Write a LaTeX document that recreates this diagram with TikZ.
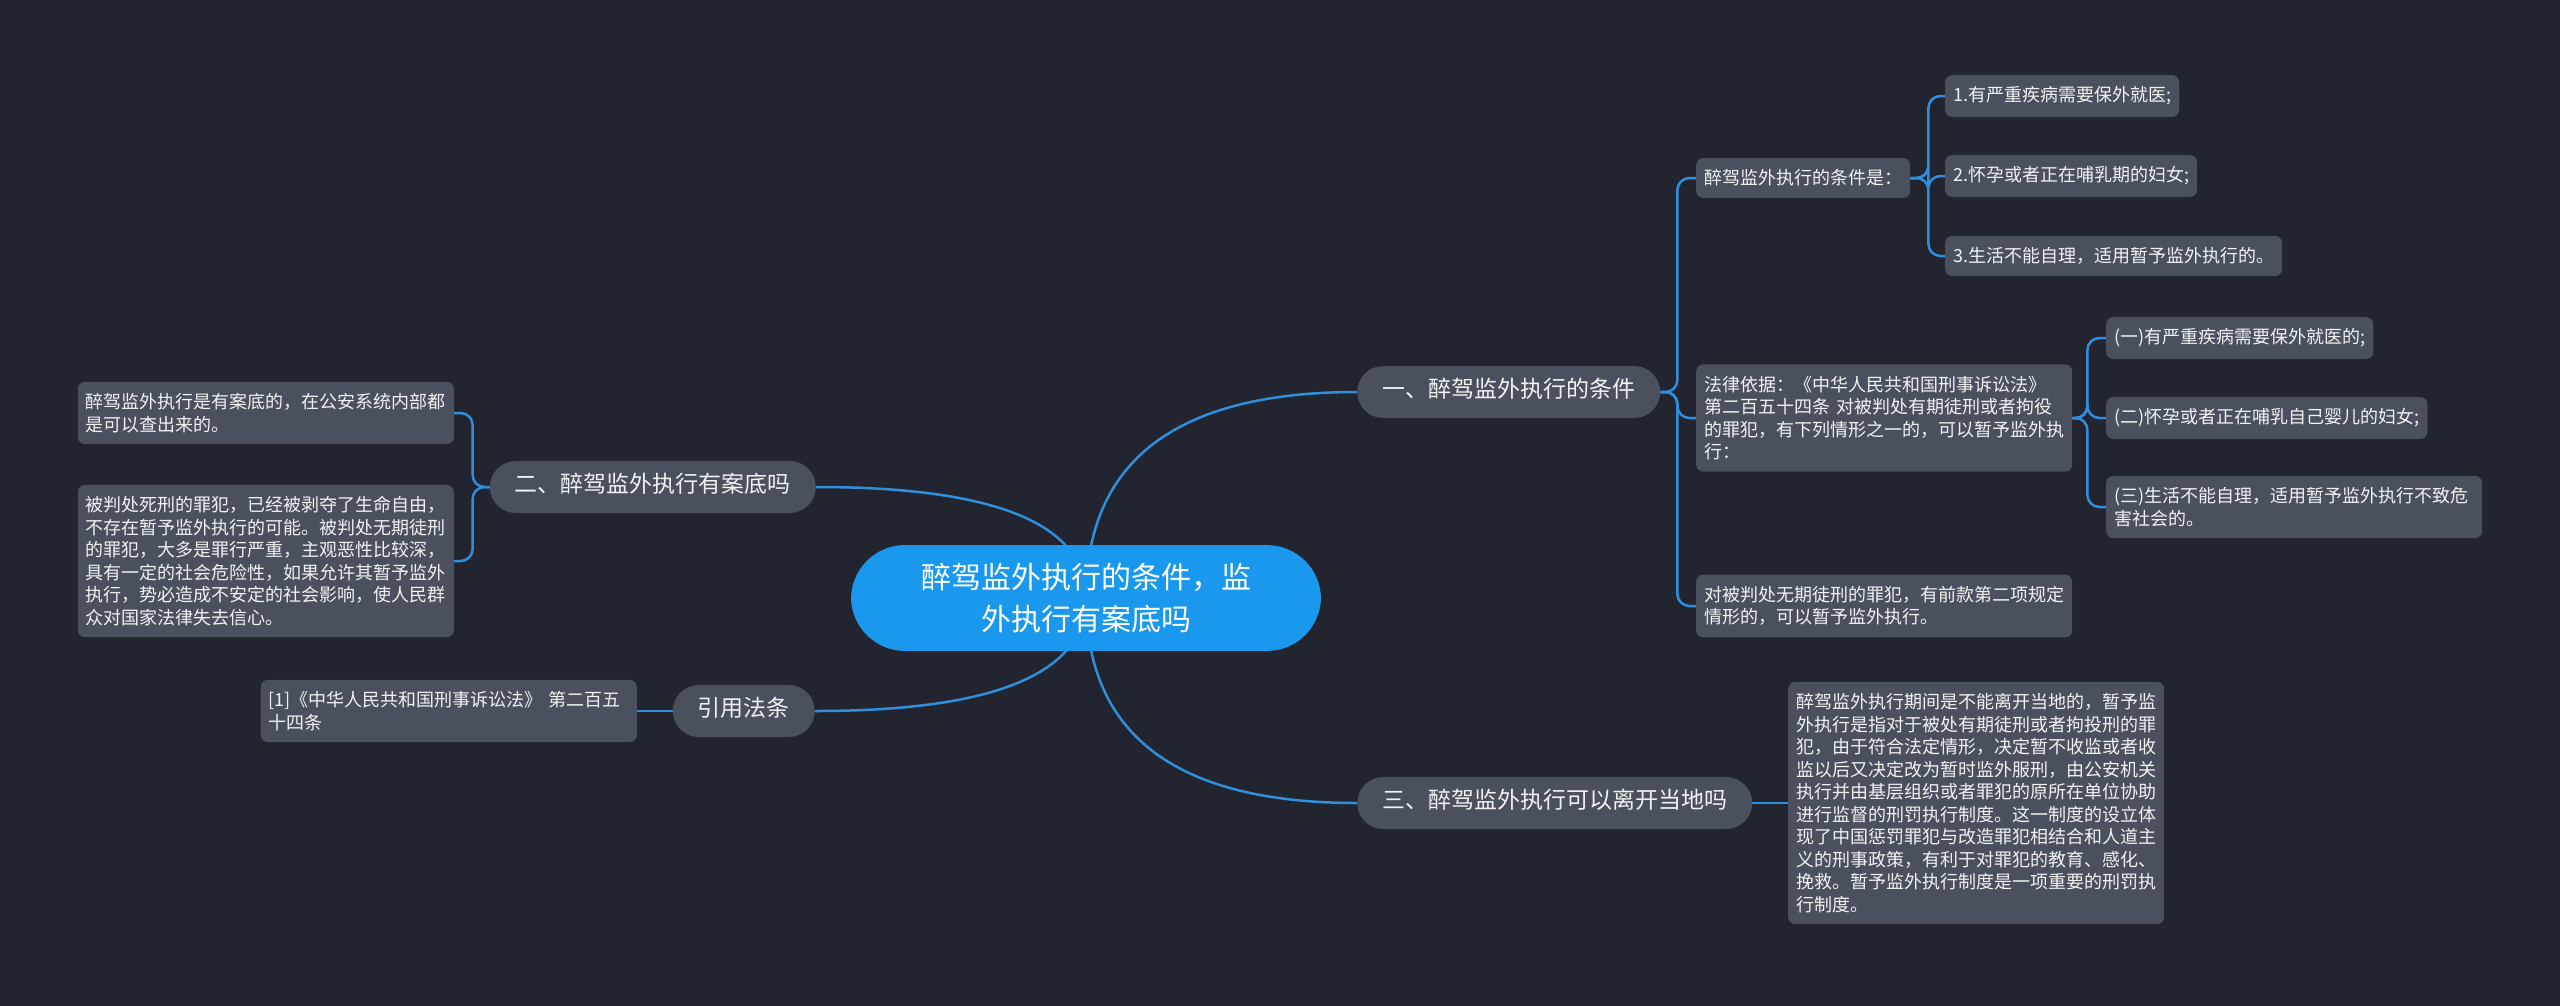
\documentclass[tikz,border=0pt]{standalone}
\usepackage{fontspec}
\setmainfont{Noto Sans CJK SC}
\usetikzlibrary{backgrounds}

\definecolor{bgdark}{HTML}{22252F}
\definecolor{rootblue}{HTML}{1A98EE}
\definecolor{boxgray}{HTML}{4A505E}
\definecolor{linkblue}{HTML}{2F8FDC}
\definecolor{textwhite}{HTML}{F2F2F2}

\begin{document}
\begin{tikzpicture}[
    x=1pt, y=-1pt,
    root/.style={rectangle, fill=rootblue, text=white, align=center, rounded corners=54pt, inner xsep=70pt, inner ysep=18pt, font=\fontsize{30pt}{42pt}\selectfont},
    topic/.style={rectangle, fill=boxgray, text=textwhite, rounded corners=26pt, inner xsep=25pt, inner ysep=14.5pt, text height=17pt, text depth=6pt, font=\fontsize{23pt}{28pt}\selectfont},
    leaf/.style={rectangle, fill=boxgray, text=textwhite, align=left, rounded corners=7pt, inner xsep=8pt, inner ysep=11.5pt, font=\fontsize{18pt}{22.5pt}\selectfont},
    wide/.style={leaf, text width=360pt},
    link/.style={draw=linkblue, line width=2.5pt},
    elbow/.style={link, rounded corners=12pt}
]
    \useasboundingbox (0,0) rectangle (2560,1005);

    % Root
    \node[root] (root) at (1086,598) {醉驾监外执行的条件，监\\外执行有案底吗};

    % Main topics
    \node[topic, anchor=west] (cond) at (1357,392) {一、醉驾监外执行的条件};
    \node[topic, anchor=west] (leave) at (1357,803) {三、醉驾监外执行可以离开当地吗};
    \node[topic, anchor=east] (record) at (816,487) {二、醉驾监外执行有案底吗};
    \node[topic, anchor=east] (cite) at (815,711) {引用法条};

    % Conditions
    \node[leaf, anchor=west] (condlist) at (1696,178) {醉驾监外执行的条件是：};
    \node[leaf, anchor=west] (item1) at (1945,96) {1.有严重疾病需要保外就医;};
    \node[leaf, anchor=west] (item2) at (1945,176) {2.怀孕或者正在哺乳期的妇女;};
    \node[leaf, anchor=west] (item3) at (1945,256) {3.生活不能自理，适用暂予监外执行的。};

    % Legal basis
    \node[wide, anchor=west] (basis) at (1696,418) {法律依据：《中华人民共和国刑事诉讼法》\\第二百五十四条 对被判处有期徒刑或者拘役\\的罪犯，有下列情形之一的，可以暂予监外执\\行：};
    \node[leaf, anchor=west] (case1) at (2106,338) {(一)有严重疾病需要保外就医的;};
    \node[leaf, anchor=west] (case2) at (2106,418) {(二)怀孕或者正在哺乳自己婴儿的妇女;};
    \node[wide, anchor=west] (case3) at (2106,507) {(三)生活不能自理，适用暂予监外执行不致危\\害社会的。};
    \node[wide, anchor=west] (lifer) at (1696,606) {对被判处无期徒刑的罪犯，有前款第二项规定\\情形的，可以暂予监外执行。};

    % Leaving the area
    \node[wide, anchor=west] (detail) at (1788,803) {醉驾监外执行期间是不能离开当地的，暂予监\\外执行是指对于被处有期徒刑或者拘投刑的罪\\犯，由于符合法定情形，决定暂不收监或者收\\监以后又决定改为暂时监外服刑，由公安机关\\执行并由基层组织或者罪犯的原所在单位协助\\进行监督的刑罚执行制度。这一制度的设立体\\现了中国惩罚罪犯与改造罪犯相结合和人道主\\义的刑事政策，有利于对罪犯的教育、感化、\\挽救。暂予监外执行制度是一项重要的刑罚执\\行制度。};

    % Criminal record
    \node[wide, anchor=east] (recfact) at (454,413) {醉驾监外执行是有案底的，在公安系统内部都\\是可以查出来的。};
    \node[wide, anchor=east] (recwhy) at (454,561) {被判处死刑的罪犯，已经被剥夺了生命自由，\\不存在暂予监外执行的可能。被判处无期徒刑\\的罪犯，大多是罪行严重，主观恶性比较深，\\具有一定的社会危险性，如果允许其暂予监外\\执行，势必造成不安定的社会影响，使人民群\\众对国家法律失去信心。};

    % Cited law
    \node[wide, anchor=east] (lawref) at (637,711) {[1]《中华人民共和国刑事诉讼法》 第二百五\\十四条};

    % Links
    \begin{scope}[on background layer]
        \fill[bgdark] (-10,-10) rectangle (2570,1015);
        \draw[link] (root.center) .. controls +(0,-137) and +(-181,0) .. (cond.west);
        \draw[link] (root.center) .. controls +(0,137) and +(-181,0) .. (leave.west);
        \draw[link] (root.center) .. controls +(0,-74) and +(180,0) .. (record.east);
        \draw[link] (root.center) .. controls +(0,75) and +(181,0) .. (cite.east);
        \draw[elbow] (cond.east) -- ++(17,0) |- (condlist.west);
        \draw[elbow] (cond.east) -- ++(17,0) |- (basis.west);
        \draw[elbow] (cond.east) -- ++(17,0) |- (lifer.west);
        \draw[elbow] (condlist.east) -- ++(18,0) |- (item1.west);
        \draw[elbow] (condlist.east) -- ++(18,0) |- (item2.west);
        \draw[elbow] (condlist.east) -- ++(18,0) |- (item3.west);
        \draw[elbow] (basis.east) -- ++(15,0) |- (case1.west);
        \draw[elbow] (basis.east) -- ++(15,0) |- (case2.west);
        \draw[elbow] (basis.east) -- ++(15,0) |- (case3.west);
        \draw[link] (leave.east) -- (detail.west);
        \draw[elbow] (record.west) -- ++(-17,0) |- (recfact.east);
        \draw[elbow] (record.west) -- ++(-17,0) |- (recwhy.east);
        \draw[link] (cite.west) -- (lawref.east);
    \end{scope}
\end{tikzpicture}
\end{document}
